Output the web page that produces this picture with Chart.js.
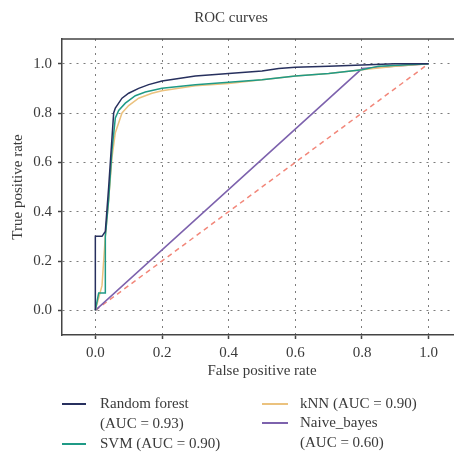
<!DOCTYPE html>
<html>
<head>
<meta charset="utf-8">
<script src="https://cdn.jsdelivr.net/npm/chart.js@4.4.1/dist/chart.umd.min.js"></script>
<style>
  html, body { margin: 0; padding: 0; background: #fff; overflow: hidden; }
  #wrap { position: relative; width: 470px; height: 457px; }
  #roc { position: absolute; left: 0; top: 0; }
  .entry { position: absolute; font-family: "Liberation Serif", serif; font-size: 15px; color: #3a3a3a; line-height: 19.5px; white-space: nowrap; }
  .swatch { position: absolute; height: 0; border-top: 2px solid; }
</style>
</head>
<body>
<div id="wrap">
  <canvas id="roc" width="470" height="457"></canvas>
</div>
<script>
// ROC points (false positive rate / true positive rate)
const rfFpr = [0, 0, 0.02, 0.03, 0.04, 0.05, 0.055, 0.06, 0.08, 0.1, 0.13, 0.16, 0.2, 0.25, 0.3, 0.4, 0.5, 0.55, 0.6, 0.7, 0.8, 0.9, 1];
const rfTpr = [0, 0.3, 0.3, 0.32, 0.5, 0.7, 0.8, 0.82, 0.86, 0.88, 0.9, 0.915, 0.93, 0.94, 0.95, 0.96, 0.97, 0.98, 0.985, 0.99, 0.995, 1, 1];

const svmFpr = [0, 0.01, 0.03, 0.03, 0.04, 0.05, 0.06, 0.07, 0.09, 0.12, 0.15, 0.2, 0.3, 0.4, 0.5, 0.6, 0.7, 0.8, 0.85, 1];
const svmTpr = [0, 0.07, 0.07, 0.3, 0.45, 0.65, 0.78, 0.81, 0.84, 0.87, 0.885, 0.9, 0.915, 0.925, 0.935, 0.95, 0.96, 0.975, 0.99, 1];

const knnFpr = [0, 0.02, 0.03, 0.04, 0.05, 0.06, 0.08, 0.1, 0.13, 0.17, 0.2, 0.3, 0.4, 0.5, 0.6, 0.7, 0.8, 0.9, 1];
const knnTpr = [0, 0.1, 0.3, 0.45, 0.62, 0.72, 0.8, 0.83, 0.86, 0.88, 0.89, 0.91, 0.92, 0.935, 0.95, 0.96, 0.975, 0.99, 1];

const nbFpr = [0, 0.8, 1];
const nbTpr = [0, 0.98, 1];

const chanceFpr = [0, 1];
const chanceTpr = [0, 1];

const tickVals = [0, 0.2, 0.4, 0.6, 0.8, 1.0];

const seriesNames = ['Random forest', 'SVM', 'kNN', 'Naive_bayes'];
const legendText = [['Random forest', '(AUC = 0.93)'], ['SVM (AUC = 0.90)'], ['kNN (AUC = 0.90)'], ['Naive_bayes', '(AUC = 0.60)']];
const colors = ['#27305e', '#1f9a86', '#ebc27e', '#7d62ad'];

const toPts = (xs, ys) => xs.map((x, i) => ({ x, y: ys[i] }));

const SERIF = '"Liberation Serif", "Times New Roman", serif';
const TEXT = '#3a3a3a';
const FS = 15;

const frame = {
  id: 'frame',
  afterDraw(chart) {
    const { ctx, chartArea: a } = chart;
    ctx.save();
    ctx.strokeStyle = '#444';
    ctx.lineWidth = 1.5;
    ctx.beginPath();
    ctx.moveTo(a.left, a.top);
    ctx.lineTo(a.right, a.top);
    ctx.lineTo(a.right, a.bottom);
    ctx.stroke();
    ctx.restore();
  }
};

const setTicks = (scale) => { scale.ticks = tickVals.map((v) => ({ value: v })); };

const gridOpts = {
  color: 'rgba(80,80,80,0.75)',
  lineWidth: 1,
  tickBorderDash: [],
  tickColor: '#444',
  tickWidth: 1.5,
  tickLength: 4,
};
const borderOpts = { display: true, color: '#444', width: 1.5, dash: [2, 5] };

const lineDs = (label, pts, color) => ({
  label,
  data: pts,
  borderColor: color,
  borderWidth: 1.5,
  pointRadius: 0,
  tension: 0,
  fill: false,
});

new Chart(document.getElementById('roc'), {
  type: 'line',
  data: {
    datasets: [
      lineDs(seriesNames[0], toPts(rfFpr, rfTpr), colors[0]),
      lineDs(seriesNames[1], toPts(svmFpr, svmTpr), colors[1]),
      lineDs(seriesNames[2], toPts(knnFpr, knnTpr), colors[2]),
      lineDs(seriesNames[3], toPts(nbFpr, nbTpr), colors[3]),
      Object.assign(lineDs('chance', toPts(chanceFpr, chanceTpr), '#f2877a'), { borderDash: [5, 4] }),
    ],
  },
  options: {
    responsive: false,
    animation: false,
    layout: { padding: { left: 0, right: 8, top: 0, bottom: 77 } },
    plugins: {
      legend: { display: false },
      tooltip: { enabled: false },
      title: {
        display: true,
        text: 'ROC curves',
        color: TEXT,
        font: { family: SERIF, size: FS, weight: 'normal' },
        padding: { top: 9, bottom: 12 },
      },
    },
    scales: {
      x: {
        type: 'linear',
        min: -0.1,
        max: 1.1,
        afterBuildTicks: setTicks,
        afterFit: (s) => { s.height = 45; },
        grid: gridOpts,
        border: borderOpts,
        ticks: { color: TEXT, padding: 5, font: { family: SERIF, size: FS }, callback: (v) => v.toFixed(1) },
        title: { display: true, text: 'False positive rate', color: TEXT, font: { family: SERIF, size: FS }, padding: { top: 0, bottom: 0 } },
      },
      y: {
        min: -0.1,
        max: 1.1,
        afterBuildTicks: setTicks,
        afterFit: (s) => { s.width = 62; },
        grid: gridOpts,
        border: borderOpts,
        ticks: { color: TEXT, padding: 6, font: { family: SERIF, size: FS }, callback: (v) => v.toFixed(1) },
        title: { display: true, text: 'True positive rate', color: TEXT, font: { family: SERIF, size: FS }, padding: { top: 9, bottom: 0 } },
      },
    },
  },
  plugins: [frame],
});

// legend laid out in two columns below the plot
const legendPos = [
  { line: [62, 86], text: 100, y: 404 },
  { line: [62, 86], text: 100, y: 444 },
  { line: [262, 288], text: 300, y: 404 },
  { line: [262, 288], text: 300, y: 423 },
];
const wrap = document.getElementById('wrap');
legendPos.forEach((p, i) => {
  const sw = document.createElement('div');
  sw.className = 'swatch';
  sw.style.left = p.line[0] + 'px';
  sw.style.width = (p.line[1] - p.line[0]) + 'px';
  sw.style.top = (p.y - 1) + 'px';
  sw.style.borderColor = colors[i];
  wrap.appendChild(sw);
  const t = document.createElement('div');
  t.className = 'entry';
  t.style.left = p.text + 'px';
  t.style.top = (p.y - 10) + 'px';
  t.innerHTML = legendText[i].join('<br>');
  wrap.appendChild(t);
});
</script>
</body>
</html>
